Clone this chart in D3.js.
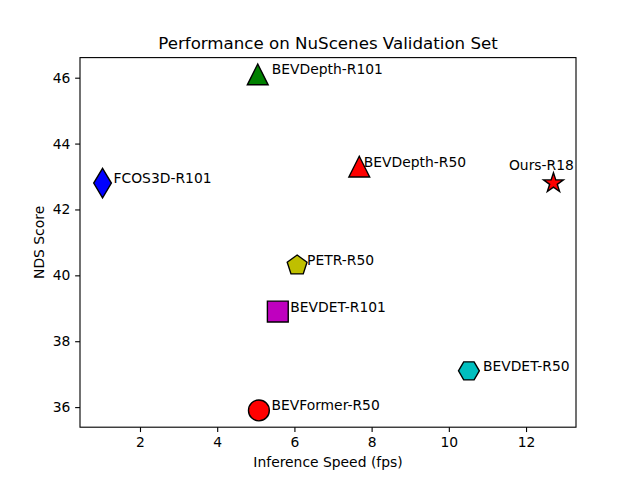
<!DOCTYPE html>
<html>
<head>
<meta charset="utf-8">
<script src="https://cdn.jsdelivr.net/npm/d3@7"></script>
<style>
  body { margin: 0; background: #fff; }
  svg { display: block; }
  text { font-family: "DejaVu Sans", sans-serif; fill: #000; }
</style>
</head>
<body>
<div id="chart"></div>
<script>
// values
const methods = ['FCOS3D-R101', 'BEVDepth-R101', 'BEVDepth-R50', 'Ours-R18',
                 'PETR-R50', 'BEVDET-R101', 'BEVDET-R50', 'BEVFormer-R50'];
const speeds = [1.03, 5.05, 7.68, 12.71, 6.07, 5.57, 10.52, 5.08];
const ndsScores = [42.8, 46.1, 43.3, 42.8, 40.3, 38.9, 37.1, 35.9];
const markerShapes = ['thin_diamond', 'triangle', 'triangle', 'star',
                      'pentagon', 'square', 'hexagon', 'circle'];
const markerColors = ['#0000ff', '#008000', '#ff0000', '#ff0000',
                      '#bfbf00', '#bf00bf', '#00bfbf', '#ff0000'];
// label offsets from the point, in pixels
const labelDx = [11, 14, 4.5, -44.5, 10, 12.5, 14, 12.5];
const labelDy = [0, 0, 0, -13.5, 0, 0, 0, 0];

const xTicks = [2, 4, 6, 8, 10, 12];
const yTicks = [36, 38, 40, 42, 44, 46];

const config = {
  width: 640,
  height: 480,
  margin: {top: 57.6, right: 64, bottom: 52.8, left: 80}
};
const pt = 100 / 72;
const innerW = config.width - config.margin.left - config.margin.right;
const innerH = config.height - config.margin.top - config.margin.bottom;

// matplotlib style 5% padding
function padded(values) {
  const lo = d3.min(values), hi = d3.max(values);
  const p = (hi - lo) * 0.05;
  return [lo - p, hi + p];
}

const xScale = d3.scaleLinear().domain(padded(speeds)).range([0, innerW]);
const yScale = d3.scaleLinear().domain(padded(ndsScores)).range([innerH, 0]);

const svg = d3.select('#chart').append('svg')
  .attr('width', config.width)
  .attr('height', config.height);

const g = svg.append('g')
  .attr('transform', `translate(${config.margin.left},${config.margin.top})`);

// marker paths centred on 0,0, s = marker size in px
function polygon(n, r, startDeg) {
  const pts = [];
  for (let i = 0; i < n; i++) {
    const a = (startDeg + i * 360 / n) * Math.PI / 180;
    pts.push([r * Math.cos(a), r * Math.sin(a)]);
  }
  return pts;
}
function markerPath(shape, s) {
  let pts;
  const h = s / 2;
  if (shape === 'circle') {
    return `M${h},0A${h},${h} 0 1 1 ${-h},0A${h},${h} 0 1 1 ${h},0Z`;
  } else if (shape === 'triangle') {
    pts = [[0, -h], [-h, h], [h, h]];
  } else if (shape === 'square') {
    pts = [[-h, -h], [h, -h], [h, h], [-h, h]];
  } else if (shape === 'thin_diamond') {
    const d = s * Math.SQRT1_2;
    pts = [[0, -d], [0.6 * d, 0], [0, d], [-0.6 * d, 0]];
  } else if (shape === 'pentagon') {
    pts = polygon(5, h, -90);
  } else if (shape === 'hexagon') {
    pts = polygon(6, h, 0);
  } else if (shape === 'star') {
    pts = [];
    for (let i = 0; i < 10; i++) {
      const r = i % 2 === 0 ? h : h * 0.381966;
      const a = (-90 + i * 36) * Math.PI / 180;
      pts.push([r * Math.cos(a), r * Math.sin(a)]);
    }
  }
  return 'M' + pts.map(p => p.join(',')).join('L') + 'Z';
}

const points = methods.map((m, i) => ({
  name: m, x: speeds[i], y: ndsScores[i],
  shape: markerShapes[i], color: markerColors[i],
  dx: labelDx[i], dy: labelDy[i]
}));

const markerSize = 15 * pt;

g.selectAll('.marker')
  .data(points)
  .join('path')
  .attr('class', 'marker')
  .attr('transform', d => `translate(${xScale(d.x)},${yScale(d.y)})`)
  .attr('d', d => markerPath(d.shape, markerSize))
  .attr('fill', d => d.color)
  .attr('stroke', '#000')
  .attr('stroke-width', 1 * pt)
  .attr('stroke-linejoin', 'miter');

g.selectAll('.label')
  .data(points)
  .join('text')
  .attr('class', 'label')
  .attr('x', d => xScale(d.x) + d.dx)
  .attr('y', d => yScale(d.y) + d.dy)
  .style('font-size', (10 * pt) + 'px')
  .text(d => d.name);

// axes
const tickLen = 3.5 * pt;
const xAxis = d3.axisBottom(xScale).tickValues(xTicks).tickSize(tickLen).tickPadding(3.5 * pt)
  .tickFormat(d3.format('d'));
const yAxis = d3.axisLeft(yScale).tickValues(yTicks).tickSize(tickLen).tickPadding(3.5 * pt)
  .tickFormat(d3.format('d'));

const gx = g.append('g').attr('transform', `translate(0,${innerH})`).call(xAxis);
const gy = g.append('g').call(yAxis);
[gx, gy].forEach(a => {
  a.select('.domain').remove();
  a.selectAll('line').attr('stroke', '#000').attr('stroke-width', 0.8 * pt);
  a.selectAll('text')
    .style('font-family', '"DejaVu Sans", sans-serif')
    .style('font-size', (10 * pt) + 'px')
    .attr('fill', '#000');
});

// frame
g.append('rect')
  .attr('width', innerW)
  .attr('height', innerH)
  .attr('fill', 'none')
  .attr('stroke', '#000')
  .attr('stroke-width', 0.8 * pt);

// title and axis labels
svg.append('text')
  .attr('x', config.margin.left + innerW / 2)
  .attr('y', config.margin.top - 6 * pt - 0.5)
  .attr('text-anchor', 'middle')
  .style('font-size', (12 * pt) + 'px')
  .text('Performance on NuScenes Validation Set');

svg.append('text')
  .attr('x', config.margin.left + innerW / 2)
  .attr('y', 467)
  .attr('text-anchor', 'middle')
  .style('font-size', (10 * pt) + 'px')
  .text('Inference Speed (fps)');

svg.append('text')
  .attr('transform', `translate(44,${config.margin.top + innerH / 2}) rotate(-90)`)
  .attr('text-anchor', 'middle')
  .style('font-size', (10 * pt) + 'px')
  .text('NDS Score');
</script>
</body>
</html>
